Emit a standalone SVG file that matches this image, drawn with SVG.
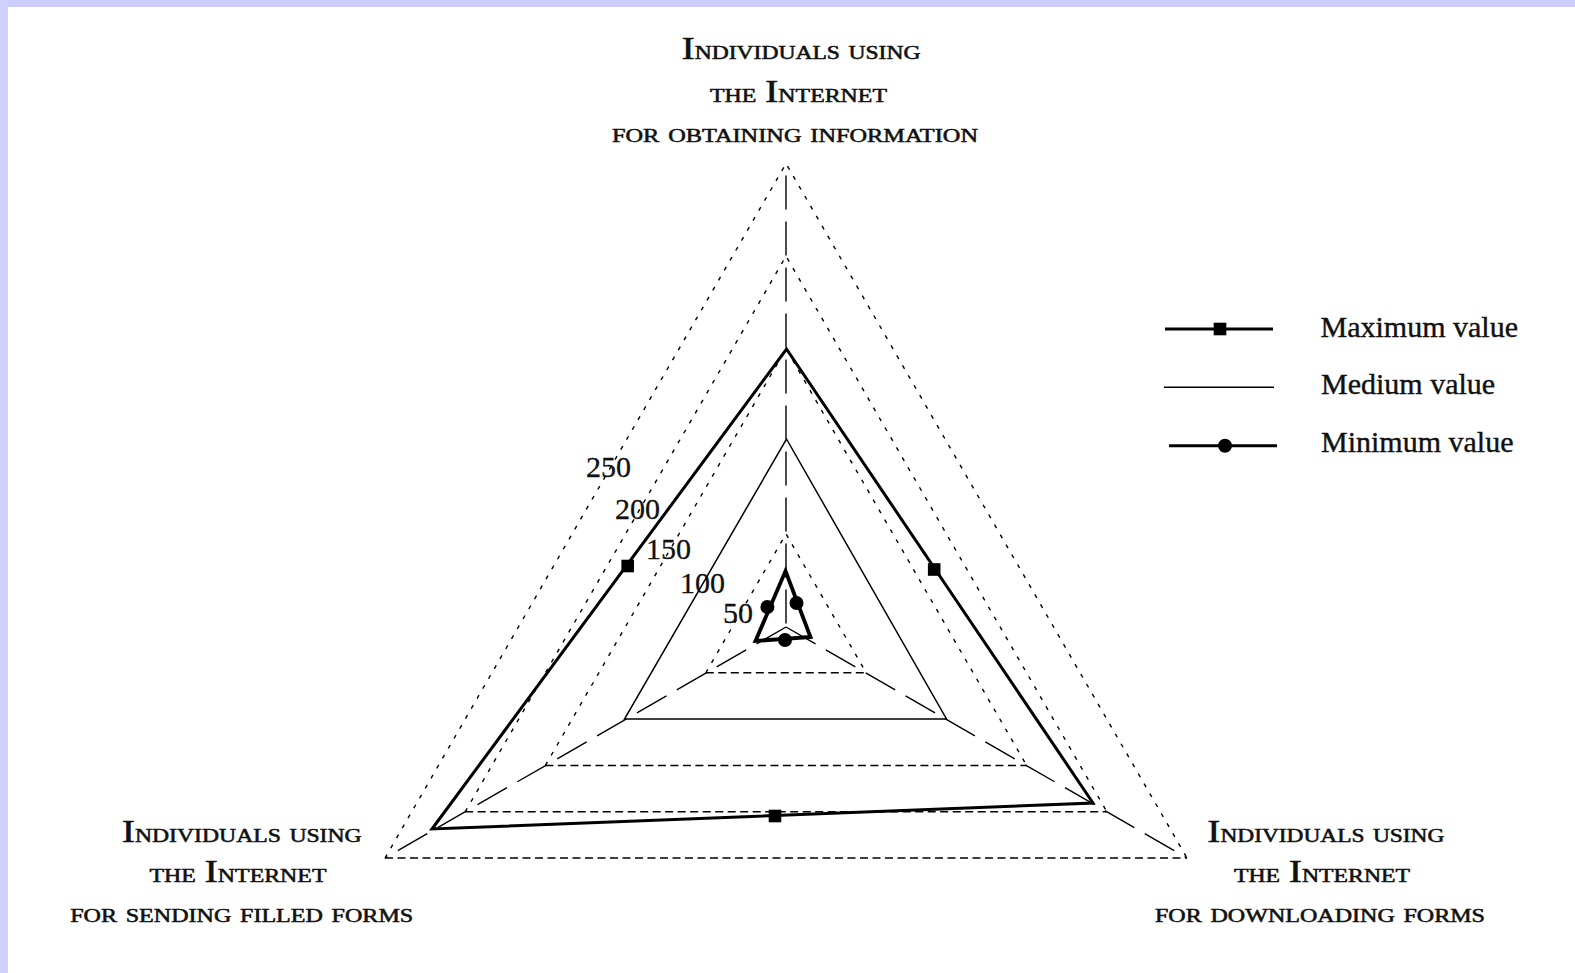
<svg xmlns="http://www.w3.org/2000/svg" width="1575" height="973" viewBox="0 0 1575 973">
<style>
.gs{fill:none;stroke:#000;stroke-width:1.4;stroke-dasharray:4 7.5}
.gb{fill:none;stroke:#000;stroke-width:1.5;stroke-dasharray:8 4.5}
.ax{fill:none;stroke:#000;stroke-width:1.4;stroke-dasharray:34 12}
.mx{fill:none;stroke:#000;stroke-width:3;stroke-linejoin:miter}
.md{fill:none;stroke:#000;stroke-width:1.5}
.mn{fill:none;stroke:#000;stroke-width:3.8;stroke-linejoin:miter}
.num{font-family:"Liberation Serif","Times New Roman",serif;font-size:30px;fill:#111;stroke:#111;stroke-width:0.3}
.leg{font-family:"Liberation Serif","Times New Roman",serif;font-size:30px;fill:#111;stroke:#111;stroke-width:0.4}
.cap{font-family:"Liberation Serif","Times New Roman",serif;font-size:27.5px;font-variant:small-caps;fill:#111;stroke:#111;stroke-width:0.55;text-anchor:middle}
.big{font-size:32px;font-variant:normal}
</style>
<defs>
<rect id="sq" x="-6.3" y="-6.3" width="12.6" height="12.6" fill="#000"/>
<circle id="dot" r="7" fill="#000"/>
</defs>
<rect x="0" y="0" width="1575" height="973" fill="#fff"/>
<rect x="0" y="0" width="1575" height="7" fill="#CCCCFF"/>
<rect x="0" y="0" width="8" height="973" fill="#D0D0FF"/>

<g id="grid">
<path class="gs" d="M705.8,672.8 L786,533.9 L866.2,672.8"/>
<path class="gb" d="M705.8,672.8 L866.2,672.8"/>
<path class="gs" d="M545.4,765.4 L786,348.7 L1026.6,765.4"/>
<path class="gb" d="M545.4,765.4 L1026.6,765.4"/>
<path class="gs" d="M465.2,811.7 L786,256.1 L1106.8,811.7"/>
<path class="gb" d="M465.2,811.7 L1106.8,811.7"/>
<path class="gs" d="M385,858 L786,163.5 L1187,858"/>
<path class="gb" d="M385,858 L1187,858"/>
</g>

<g id="connectors">
<path class="ax" d="M786,163.5 L786,627" stroke-dashoffset="34"/>
<path class="ax" d="M786,627 L385,858"/>
<path class="ax" d="M786,627 L1187,858"/>
</g>

<g id="axis-values">
<text class="num" x="586" y="477">250</text>
<text class="num" x="615" y="519">200</text>
<text class="num" x="646" y="559">150</text>
<text class="num" x="680" y="593">100</text>
<text class="num" x="723" y="623">50</text>
</g>

<g id="series-medium">
<path class="md" d="M786.5,439 L946.5,719 L624.5,719 Z"/>
</g>

<g id="series-maximum">
<path class="mx" d="M786.5,349 L1093,803 L432,829 Z"/>
<use href="#sq" x="627.7" y="566"/>
<use href="#sq" x="934.2" y="569.5"/>
<use href="#sq" x="775" y="816"/>
</g>

<g id="series-minimum">
<path class="mn" d="M785.5,571 L810.5,637 L755.5,641 Z"/>
<use href="#dot" x="767.4" y="607"/>
<use href="#dot" x="796.5" y="603"/>
<use href="#dot" x="785" y="640"/>
</g>

<g id="label-top">
<text class="cap" x="801" y="59.3" textLength="239" lengthAdjust="spacingAndGlyphs"><tspan class="big">I</tspan>ndividuals using</text>
<text class="cap" x="798.5" y="101.7" textLength="177" lengthAdjust="spacingAndGlyphs">the <tspan class="big">I</tspan>nternet</text>
<text class="cap" x="795" y="141.7" textLength="366" lengthAdjust="spacingAndGlyphs">for obtaining information</text>
</g>

<g id="label-left">
<text class="cap" x="241.7" y="841.7" textLength="240" lengthAdjust="spacingAndGlyphs"><tspan class="big">I</tspan>ndividuals using</text>
<text class="cap" x="238" y="881.7" textLength="177" lengthAdjust="spacingAndGlyphs">the <tspan class="big">I</tspan>nternet</text>
<text class="cap" x="241.7" y="921.7" textLength="343" lengthAdjust="spacingAndGlyphs">for sending filled forms</text>
</g>

<g id="label-right">
<text class="cap" x="1325.8" y="841.7" textLength="237" lengthAdjust="spacingAndGlyphs"><tspan class="big">I</tspan>ndividuals using</text>
<text class="cap" x="1322" y="881.7" textLength="176" lengthAdjust="spacingAndGlyphs">the <tspan class="big">I</tspan>nternet</text>
<text class="cap" x="1320" y="921.7" textLength="330" lengthAdjust="spacingAndGlyphs">for downloading forms</text>
</g>

<g id="legend">
<g id="legend-max">
<line x1="1165" y1="329" x2="1273" y2="329" stroke="#000" stroke-width="3"/>
<use href="#sq" x="1220" y="329"/>
<text class="leg" x="1320.5" y="336.7">Maximum value</text>
</g>
<g id="legend-med">
<line x1="1164" y1="387.3" x2="1274" y2="387.3" stroke="#000" stroke-width="1.5"/>
<text class="leg" x="1321" y="394.3">Medium value</text>
</g>
<g id="legend-min">
<line x1="1169" y1="445.7" x2="1277" y2="445.7" stroke="#000" stroke-width="3"/>
<use href="#dot" x="1225" y="445.7"/>
<text class="leg" x="1321" y="451.7">Minimum value</text>
</g>
</g>
</svg>
